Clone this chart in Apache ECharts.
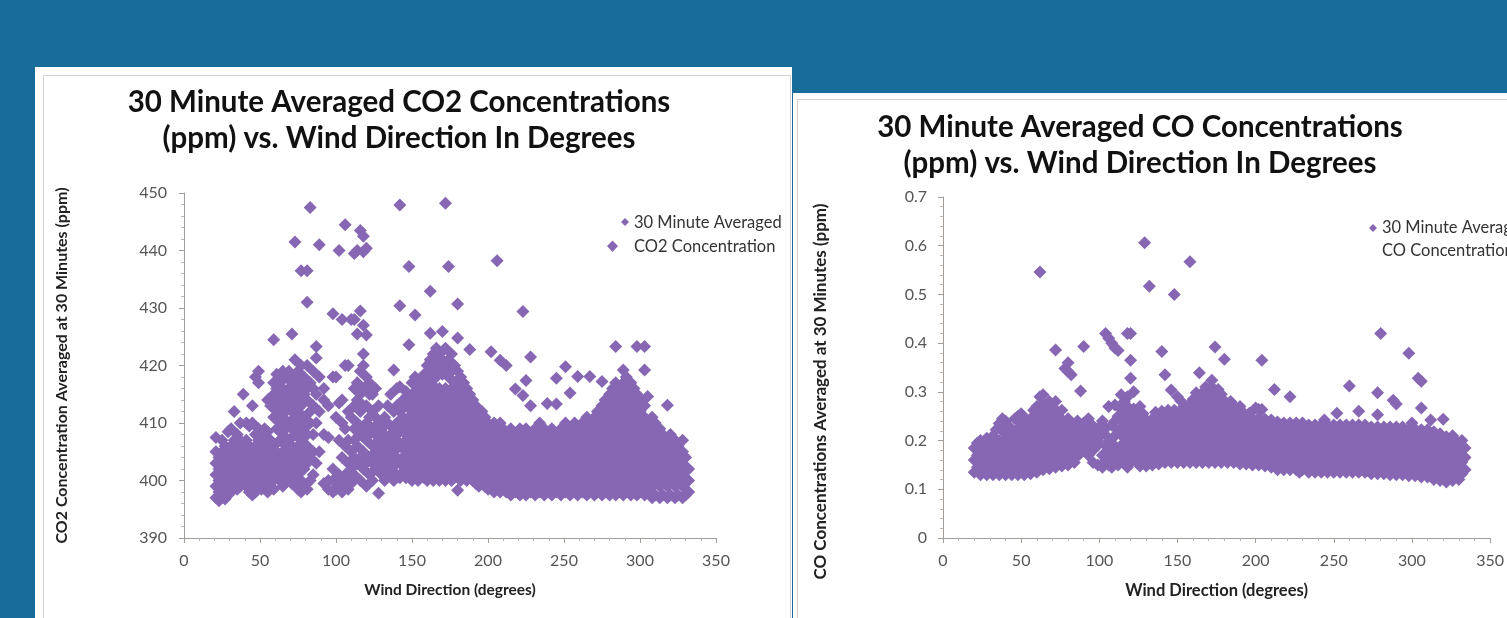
<!DOCTYPE html>
<html><head><meta charset="utf-8">
<script src="https://cdn.jsdelivr.net/npm/echarts@6/dist/echarts.min.js"></script>
<style>
html,body{margin:0;padding:0;background:#176c9a;width:1507px;height:618px;overflow:hidden;}
#p1{position:absolute;left:35px;top:67px;width:757px;height:600px;background:#fff;}
#b1{position:absolute;left:43px;top:75px;width:746px;height:600px;border:1px solid #d6d0cc;}
#p2{position:absolute;left:793px;top:93px;width:714px;height:600px;background:#fff;}
#b2{position:absolute;left:797px;top:99px;width:720px;height:600px;border:1px solid #d6d0cc;}
#c{position:absolute;left:0;top:0;width:1507px;height:618px;}
</style>
</head><body>
<div id="p1"></div><div id="b1"></div><div id="p2"></div><div id="b2"></div>
<div id="c"></div>
<script>
// Each row: [wind direction, concentration values observed at that direction...]
const co2Cols = [
[21,397,399,401,403,405,407.5],[23,396.5,398,400,402,404],[25,397,399,401,403,405,407],
[27,396.8,398,400,402,404,406],[29,397.5,399,401,403,405,408.5],[31,398,400,402,404,406,409],
[33,399,401,403,405,407,412],[35,398.5,400,402,404,406,408],[37,399,401,403,405,407,410],
[39,400,402,404,406,415],[41,399,401,403,405,407,410],[43,398,400,402,404,406,409.5],
[45,397.5,399,401,403,405,410,413],[47,398,400,402,404,406,408,418],[49,399,401,403,405,407,409,417,419],
[51,398.5,400,402,404,406,408],[53,399,401,403,405,407,409],[55,398,400,402,404,406,408.5,414],
[57,399,401,403,405,407,413],[59,398.5,400,402,404,406,411,415,417,424.5],[61,401,403,405,409,412,414,416,418.5],
[63,400,402,404,407,410,413,415,417],[65,399,401,403,405,408,411,414,416,419],[67,400,402,404,406,409,412,415,418],
[69,401,403,405,407,410,413,416,419],[71,399.5,402,404,406,409,412,414,417,425.5],
[73,400,403,405,408,411,413,415,418,421,441.5],[75,398.5,401,403,406,408,410,412,414,416,419],
[77,398,400,402,404,407,413,417,420,436.5],[79,399,402,405,409,411,415,418],
[81,398.5,403,406,408,414,416,420,431,436.5],[83,400,404,410,412,417,447.5],[85,401,405,408,413,416,419],
[87,403,410,415,421.3,423.3],[89,405,412,418,441],
[92,399.5,408,414,416],[95,398.5,400,407.5,413],[98,398,400,402,418,429],[100,398.5,400.5,411,418],
[102,399,401,407,413.5,440],[104,398,400,404,410,414,428],[106,399,401,406,409,420,444.5],
[108,398.5,400.5,403,407,412,420],[110,399.5,402,405,411,428],[112,401,404,407,409,413,416,428,439.5],
[114,403,406,410,414,417,425.5,440],[116,400,404,408,412,415,419,429.5,443.5],
[118,402,405,409,413,416,420,422,427,439.8,442.5],[120,399,403,407,410,413,418,425.3,440.4],
[122,401,404,408,411,415,417],[124,400,403,406,409,412,415],[126,402,405,408,411,416],
[128,397.8,404,407,410,413],[130,401,403,406,409],[132,400,402.5,405,408,411],
[134,402,404,407,410,413],[136,401,403,406,408,415],[138,400,402.5,405,409,412,419.2],
[140,401,404,407,410,413,416],[142,400.5,403,406,408.5,412,416.3,430.4,447.9],
[144,401.5,404,406.5,409,411,414],[146,400.5,402.5,405,408,410.5,413,415.5],
[148,401,403.5,406,408.5,411,414,423.6,437.2],[150,400,402,404.5,407,409.5,412,414.5,417],
[152,401,403,405.5,408,410.5,413,415.5,418,428.8],[154,400,402,404,406.5,409,411.5,414,416.5],
[156,401,403,405,407.5,410,412.5,415,417.5],[158,400.5,402.5,404.5,406.5,409,411,413.5,416,418.5],
[160,400,401.5,403.5,405.5,408,410,412,414.5,417,420],
[162,401,403,405,407,409,411,413,415.5,418,421,425.6,432.9],
[164,400,402,404,406,408,410,412,414,416.5,419,422],
[166,401,403,405,407,409,411,413,415,418,420.5,423],
[168,400,402,404,406,408,410,412,414,416,419.5,422],
[170,401,403,405,407,409,411,413,415,418.5,421,425.9],
[172,400,402,404,406,408,410,412,414,416,420,423,448.2],
[174,401,403,405,407,409,411,413,415,418,421,437.2],
[176,400,402,404,406,408,410,412,414,416,419,422],
[178,400.5,403,405,407,409,411,413,415,417,420],
[180,398.3,401,403,405,407,409,411,413,415,417,419,424.8,430.7],
[182,400,402,404,406,408,410,412,414,416,418],[184,401,403,405,407,409,411,413,415,417],
[186,400,402,404,406,408,410,412,414,416],[188,400.5,403,405,407,409,411,413,415,422.8],
[190,400,402,404,406,408,410,412,414],[192,399.5,401,403,405,407,409,411,413],
[194,399,401,403,405,407,409,411],[196,399.5,402,404,406,408,410,412],
[198,399,401,403,405,407,409,411],[200,398.5,400,402,404,406,408,410],
[202,399,401,403,405,407,409,422.4],[204,398,400,402,404,406,408,410],
[206,399,401,403,405,407,409,438.2],[208,398,400,402,404,406,408,410,420.9],
[210,398.5,401,403,405,407,409],[212,398,400,402,404,406,408,420],
[215,397.5,399,401,403,405,407,409],[218,398,400,402,404,406,408,415.9],
[221,397.5,399,401,403,405,407,409],[223,398,400,402,404,406,408,414.8,429.4],
[225,397.5,399,401,403,405,407,409,417.4],[228,398,400,402,404,406,408,413,421.5],
[231,397.5,399,401,403,405,407,409],[234,398,400,402,404,406,408,410],
[237,397.5,399,401,403,405,407,409],[239,398,400,402,404,406,408,413.4],
[242,397.5,399,401,403,405,407,409],[245,398,400,402,404,406,408,413.3,417.8],
[248,397.5,399,401,403,405,407,409],[251,398,400,402,404,406,408,410,419.8],
[254,397.5,399,401,403,405,407,409,415.2],[257,398,400,402,404,406,408,410],
[259,397.5,399,401,403,405,407,409,418.1],[262,398,400,402,404,406,408,410],
[265,397.5,399,401,403,405,407,409,411],[267,398,400,402,404,406,408,410,418.1],
[270,397.5,399,401,403,405,407,409,411],[272,398,400,402,404,406,408,410,412],
[275,397.5,399,401,403,405,407,409,411,413,417.2],[277,398,400,402,404,406,408,410,412,414],
[280,397.5,399,401,403,405,407,409,411,413,415],[282,398,400,402,404,406,408,410,412,414,416],
[284,397.5,399,401,403,405,407,409,411,413,415,417,423.3],[286,398,400,402,404,406,408,410,412,414,416],
[289,397.5,399,401,403,405,407,409,411,413,415,417,419.2],[291,398,400,402,404,406,408,410,412,414,416,418],
[294,397.5,399,401,403,405,407,409,411,413,415,417],[296,398,400,402,404,406,408,410,412,414,416],
[298,397.5,399,401,403,405,407,409,411,413,415,423.3],[300,398,400,402,404,406,408,410,412,414],
[303,397.5,399,401,403,405,407,409,411,413,419.2,423.3],[305,398,400,402,404,406,408,410,414.6],
[308,397,399,401,403,405,407,409,411],[310,397.5,400,402,404,406,408,410],
[313,397,399,401,403,405,407,409],[315,397.5,400,402,404,406,408],
[318,397,399,401,403,405,407,413.1],[320,397.5,400,402,404,406,408],
[323,397,399,401,403,405,407],[325,397.5,400,402,404,406],
[328,397,399,401,403,405,407],[330,397.5,400,402,404],[332,398,400,402]
];
const coCols = [
[20,0.135,0.16,0.185],[22,0.145,0.17,0.195],[24,0.13,0.155,0.18,0.2],[26,0.14,0.165,0.19],
[28,0.13,0.155,0.18,0.205],[30,0.142,0.166,0.19,0.2],[32,0.13,0.154,0.178,0.21],
[34,0.14,0.164,0.188,0.222],[36,0.13,0.154,0.178,0.2,0.235],[38,0.142,0.166,0.19,0.22,0.245],
[40,0.13,0.154,0.178,0.202,0.24],[42,0.14,0.164,0.188,0.212,0.23],[44,0.13,0.152,0.176,0.2,0.222],
[46,0.138,0.162,0.186,0.21,0.245],[48,0.13,0.15,0.174,0.198,0.225,0.25],
[50,0.14,0.164,0.188,0.212,0.236,0.255],[52,0.13,0.152,0.176,0.2,0.224,0.248],
[54,0.14,0.164,0.188,0.212,0.236],[56,0.132,0.152,0.176,0.2,0.224,0.245],
[58,0.142,0.164,0.188,0.212,0.236,0.262],[60,0.135,0.155,0.178,0.2,0.225,0.25,0.27],
[62,0.145,0.168,0.19,0.215,0.24,0.265,0.29,0.546],[64,0.14,0.16,0.182,0.205,0.228,0.252,0.275,0.294],
[66,0.15,0.172,0.195,0.218,0.242,0.265],[68,0.142,0.164,0.186,0.21,0.234,0.258,0.28],
[70,0.152,0.175,0.198,0.222,0.246,0.27],[72,0.145,0.168,0.19,0.214,0.238,0.262,0.28,0.386],
[74,0.155,0.178,0.2,0.225,0.25],[76,0.148,0.17,0.192,0.216,0.24,0.262],
[78,0.158,0.18,0.204,0.228,0.348],[80,0.15,0.175,0.2,0.222,0.245,0.342,0.36],
[82,0.162,0.186,0.21,0.234,0.335],[84,0.155,0.18,0.205,0.228],[86,0.168,0.192,0.216,0.24],
[88,0.175,0.2,0.222,0.302],[90,0.185,0.21,0.236,0.393],[93,0.17,0.195,0.22,0.245],
[96,0.155,0.18,0.21,0.23],[99,0.15,0.19,0.2,0.225],[102,0.145,0.17,0.215,0.24],
[104,0.16,0.19,0.225,0.42],[106,0.15,0.18,0.205,0.27,0.41],[108,0.145,0.17,0.195,0.232,0.4],
[110,0.16,0.185,0.21,0.24,0.273,0.39],[112,0.15,0.175,0.22,0.25,0.385],
[114,0.165,0.19,0.215,0.24,0.265,0.294],[116,0.155,0.18,0.205,0.23,0.255,0.28],
[118,0.145,0.17,0.195,0.22,0.245,0.27,0.29,0.42],[120,0.155,0.18,0.205,0.23,0.255,0.328,0.365,0.42],
[122,0.165,0.19,0.215,0.24,0.265,0.3],[124,0.155,0.18,0.204,0.228,0.252],
[126,0.148,0.17,0.194,0.218,0.242,0.27],[128,0.158,0.182,0.206,0.23,0.255],[129,0.606],
[130,0.148,0.17,0.194,0.218,0.242],[132,0.16,0.184,0.208,0.232,0.517],
[134,0.15,0.172,0.196,0.22,0.245],[136,0.162,0.186,0.21,0.234,0.258],
[138,0.152,0.174,0.198,0.222,0.246],[140,0.164,0.188,0.212,0.236,0.26,0.383],
[142,0.155,0.178,0.2,0.224,0.248,0.335],[144,0.165,0.19,0.214,0.238,0.262],
[146,0.155,0.178,0.202,0.226,0.25,0.304],[148,0.165,0.19,0.214,0.238,0.262,0.5],
[150,0.155,0.178,0.202,0.226,0.25,0.29],[152,0.162,0.186,0.21,0.234,0.258,0.282],
[154,0.155,0.178,0.202,0.226,0.25,0.27],[156,0.165,0.19,0.214,0.238,0.262],
[158,0.155,0.178,0.202,0.226,0.25,0.275,0.567],[160,0.165,0.19,0.214,0.238,0.262,0.285],
[162,0.155,0.178,0.202,0.226,0.25,0.274,0.298],[164,0.165,0.19,0.214,0.238,0.262,0.286,0.339],
[166,0.155,0.178,0.202,0.226,0.25,0.274,0.298],[168,0.165,0.19,0.214,0.238,0.262,0.286,0.31],
[170,0.155,0.178,0.202,0.226,0.25,0.274,0.298],[172,0.165,0.19,0.214,0.238,0.262,0.286,0.31,0.324],
[174,0.155,0.178,0.202,0.226,0.25,0.274,0.298,0.392],[176,0.165,0.19,0.214,0.238,0.262,0.286,0.305],
[178,0.155,0.178,0.202,0.226,0.25,0.274,0.295],[180,0.162,0.186,0.21,0.234,0.258,0.282,0.367],
[182,0.155,0.178,0.202,0.226,0.25,0.274],[184,0.165,0.19,0.214,0.238,0.262,0.28],
[186,0.155,0.178,0.202,0.226,0.25,0.272],[188,0.162,0.186,0.21,0.234,0.258],
[190,0.152,0.176,0.2,0.224,0.248,0.27],[192,0.162,0.186,0.21,0.234,0.258],
[194,0.152,0.176,0.2,0.224,0.248],[196,0.16,0.184,0.208,0.232,0.256],
[198,0.15,0.174,0.198,0.222,0.246],[200,0.16,0.184,0.208,0.232,0.267],
[202,0.15,0.174,0.198,0.222,0.246,0.264],[204,0.158,0.182,0.206,0.23,0.264,0.365],
[206,0.148,0.172,0.196,0.22,0.244],[208,0.158,0.182,0.206,0.23],
[210,0.145,0.17,0.194,0.218,0.242],[212,0.155,0.18,0.204,0.228,0.305],
[214,0.14,0.165,0.19,0.214,0.238],[216,0.152,0.176,0.2,0.224],
[218,0.14,0.164,0.188,0.212,0.236],[220,0.152,0.176,0.2,0.224],
[222,0.14,0.164,0.188,0.212,0.236,0.29],[224,0.152,0.176,0.2,0.224],
[226,0.14,0.164,0.188,0.212,0.236],[228,0.135,0.152,0.176,0.2,0.224],
[230,0.14,0.164,0.188,0.212,0.236],[232,0.152,0.176,0.2,0.224],
[234,0.135,0.16,0.184,0.208,0.232],[236,0.148,0.172,0.196,0.22],
[238,0.135,0.16,0.184,0.208,0.232],[240,0.148,0.172,0.196,0.22],
[242,0.135,0.16,0.184,0.208,0.232],[244,0.148,0.172,0.196,0.22,0.242],
[246,0.135,0.16,0.184,0.208,0.232],[248,0.148,0.172,0.196,0.22],
[250,0.135,0.16,0.184,0.208,0.232],[252,0.148,0.172,0.196,0.22,0.256],
[254,0.135,0.16,0.184,0.208,0.232],[256,0.148,0.172,0.196,0.22],
[258,0.135,0.16,0.184,0.208,0.232],[260,0.148,0.172,0.196,0.22,0.312],
[262,0.135,0.16,0.184,0.208,0.232],[264,0.148,0.172,0.196,0.22],
[266,0.135,0.16,0.184,0.208,0.232,0.26],[268,0.148,0.172,0.196,0.22],
[270,0.135,0.16,0.184,0.208,0.232],[272,0.148,0.172,0.196,0.22],
[274,0.132,0.156,0.18,0.204,0.228],[276,0.145,0.17,0.194,0.218],
[278,0.132,0.156,0.18,0.204,0.228,0.253,0.298],[280,0.145,0.17,0.194,0.218,0.42],
[282,0.132,0.156,0.18,0.204,0.228],[284,0.145,0.17,0.194,0.218],
[286,0.13,0.155,0.18,0.204,0.228],[288,0.142,0.166,0.19,0.214,0.283],
[290,0.13,0.155,0.18,0.204,0.228,0.275],[292,0.142,0.166,0.19,0.214],
[294,0.13,0.155,0.18,0.204,0.228],[296,0.142,0.166,0.19,0.214],
[298,0.128,0.152,0.176,0.2,0.224,0.379],[300,0.14,0.164,0.188,0.212,0.236],
[302,0.128,0.152,0.176,0.2,0.224],[304,0.14,0.164,0.188,0.212,0.328],
[306,0.125,0.15,0.174,0.198,0.222,0.267,0.322],[308,0.138,0.162,0.186,0.21],
[310,0.125,0.15,0.174,0.198,0.222],[312,0.138,0.162,0.186,0.21,0.242],
[314,0.12,0.145,0.17,0.194,0.218],[316,0.132,0.156,0.18,0.204],
[318,0.118,0.142,0.166,0.19,0.214],[320,0.13,0.154,0.178,0.2,0.244],
[322,0.115,0.14,0.164,0.188,0.208],[324,0.128,0.152,0.176,0.2],
[326,0.118,0.142,0.166,0.19,0.21],[328,0.13,0.154,0.178,0.2],
[330,0.12,0.145,0.17,0.194],[332,0.132,0.156,0.18,0.2],[334,0.14,0.165,0.185]
];
const co2Name = '30 Minute Averaged\nCO2 Concentration';
const coName = '30 Minute Averaged\nCO Concentration';
const co2Title = '30 Minute Averaged CO2 Concentrations\n(ppm) vs. Wind Direction In Degrees';
const coTitle = '30 Minute Averaged CO Concentrations\n(ppm) vs. Wind Direction In Degrees';
const xName = 'Wind Direction (degrees)';
const co2YName = 'CO2 Concentration Averaged at 30 Minutes (ppm)';
const coYName = 'CO Concentrations Averaged at 30 Minutes (ppm)';

function toPoints(cols){const out=[];cols.forEach(c=>{for(let i=1;i<c.length;i++)out.push([c[0],c[i]]);});return out;}

const FONT='Lato';
const PURPLE='#8767b3';
const AXC='#a39d99';
function ax(extra){
  return Object.assign({
    axisLine:{show:true,lineStyle:{color:AXC,width:1}},
    axisTick:{show:true,length:5,lineStyle:{color:AXC}},
    minorTick:{show:true,splitNumber:5,length:3,lineStyle:{color:'#bdb7b3'}},
    splitLine:{show:false},
    nameLocation:'middle'
  },extra);
}
const lbl=(m)=>({color:'#555',fontFamily:FONT,fontSize:16,margin:m});
const nm=(s,pad)=>({color:'#222',fontFamily:FONT,fontSize:s,fontWeight:'bold',padding:pad||0});
const titleStyle={fontFamily:FONT,fontSize:29.5,fontWeight:'bold',color:'#111',lineHeight:36};
const legText={fontFamily:FONT,fontSize:16.5,color:'#333'};

const chart = echarts.init(document.getElementById('c'),null,{renderer:'canvas'});
chart.setOption({
  animation:false,
  backgroundColor:'transparent',
  title:[
    {text:co2Title,left:399,top:84,padding:0,textAlign:'center',textStyle:titleStyle},
    {text:coTitle,left:1140,top:109,padding:0,textAlign:'center',textStyle:titleStyle}
  ],
  legend:[
    {data:[co2Name],left:602,top:206,itemWidth:22,itemHeight:34,
     icon:'path://M18,0L22,4L18,8L14,4Z M5.5,22.5L11,28L5.5,34L0,28Z',
     textStyle:Object.assign({lineHeight:24},legText)},
    {data:[coName],left:1364,top:211.5,itemWidth:8,itemHeight:31,
     icon:'path://M4,0L8,4L4,8L0,4Z M4,31L4.01,31Z',
     textStyle:Object.assign({lineHeight:23},legText)}
  ],
  grid:[
    {left:184,right:791,top:193,bottom:80},
    {left:943,right:12,top:197,bottom:80}
  ],
  xAxis:[
    ax({type:'value',gridIndex:0,min:0,max:350,interval:50,name:xName,nameGap:44,
        axisLabel:lbl(15),nameTextStyle:nm(15.5)}),
    ax({type:'value',gridIndex:1,min:0,max:350,interval:50,name:xName,nameGap:44,
        axisLabel:lbl(15),nameTextStyle:nm(16.5)})
  ],
  yAxis:[
    ax({type:'value',gridIndex:0,min:390,max:450,interval:10,name:co2YName,nameGap:114,
        axisLabel:lbl(17),nameTextStyle:nm(16)}),
    ax({type:'value',gridIndex:1,min:0,max:0.7,interval:0.1,name:coYName,nameGap:114,
        axisLabel:lbl(16),nameTextStyle:nm(17,[0,48,0,0])})
  ],
  series:[
    {name:co2Name,type:'scatter',xAxisIndex:0,yAxisIndex:0,symbol:'diamond',symbolSize:13,
     itemStyle:{color:PURPLE,opacity:1},data:toPoints(co2Cols)},
    {name:coName,type:'scatter',xAxisIndex:1,yAxisIndex:1,symbol:'diamond',symbolSize:13,
     itemStyle:{color:PURPLE,opacity:1},data:toPoints(coCols)}
  ]
});
</script>
</body></html>
